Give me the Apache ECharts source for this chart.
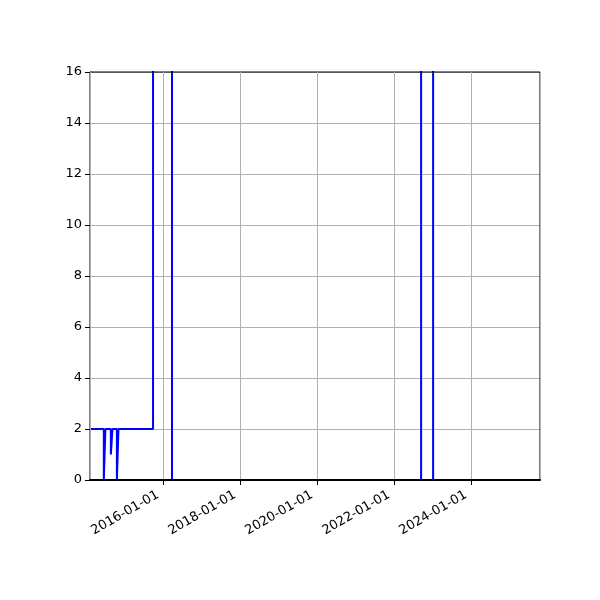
<!DOCTYPE html>
<html>
<head>
<meta charset="utf-8">
<script src="https://cdn.jsdelivr.net/npm/echarts@6/dist/echarts.min.js"></script>
<style>
  html, body { margin: 0; padding: 0; background: #fff; }
  #chart { width: 600px; height: 600px; }
</style>
</head>
<body>
<div id="chart"></div>
<script>
// step series, values (peaks go past the top of the axis)
const dates = [
  '2014-02-07', '2014-06-18', '2014-07-03', '2014-08-24', '2014-09-08',
  '2014-10-20', '2014-11-04', '2015-09-28', '2016-03-26', '2022-09-14',
  '2023-01-06', '2025-10-16'
]
const values = [2, 0, 2, 1, 2, 0, 2, 30, 0, 30, 0, 0]

const xMin = '2014-02-07'
const xMax = '2025-10-16'
const yMin = 0
const yMax = 16
const yStep = 2

const chart = echarts.init(document.getElementById('chart'), null, { renderer: 'canvas' })

const textStyle = { color: '#000', fontFamily: 'DejaVu Sans', fontSize: 13 }
const TWO_YEARS = 2 * 365.25 * 24 * 3600 * 1000

chart.setOption({
  animation: false,
  backgroundColor: '#fff',
  grid: {
    left: 90, right: 60, top: 72, bottom: 120,
    z: 4,
    show: true, borderColor: '#000', borderWidth: 1, backgroundColor: 'transparent'
  },
  xAxis: {
    type: 'time',
    z: 4,
    min: new Date(xMin).getTime(),
    max: new Date(xMax).getTime(),
    minInterval: TWO_YEARS,
    maxInterval: TWO_YEARS,
    // spine sits over the line, like matplotlib
    axisLine: { show: true, lineStyle: { color: '#000', width: 2 } },
    axisTick: { show: true, inside: false, length: 5, lineStyle: { color: '#000' } },
    splitLine: { show: true, lineStyle: { color: '#b0b0b0', width: 1 } },
    axisLabel: Object.assign({}, textStyle, {
      rotate: 30,
      margin: 11,
      padding: [0, 6, 0, 0],
      showMinLabel: false,
      showMaxLabel: false,
      formatter: (v) => echarts.time.format(v, '{yyyy}-{MM}-{dd}', false)
    })
  },
  yAxis: {
    type: 'value',
    min: yMin,
    max: yMax,
    interval: yStep,
    axisLine: { show: true, lineStyle: { color: '#000', width: 1 } },
    axisTick: { show: true, inside: false, length: 5, lineStyle: { color: '#000' } },
    splitLine: { show: true, lineStyle: { color: '#b0b0b0', width: 1 } },
    axisLabel: Object.assign({}, textStyle, { margin: 8 })
  },
  series: [{
    type: 'line',
    step: 'end',
    showSymbol: false,
    symbol: 'none',
    clip: true,
    lineStyle: { color: '#0000ff', width: 2 },
    data: dates.map((d, i) => [new Date(d).getTime(), values[i]])
  }]
})
</script>
</body>
</html>
